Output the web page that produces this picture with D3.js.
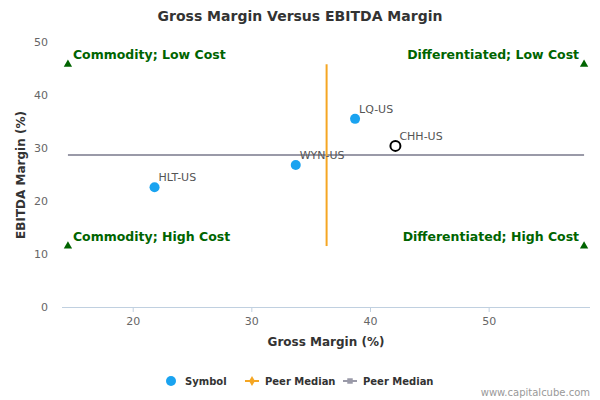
<!DOCTYPE html><html><head><script src="https://cdn.jsdelivr.net/npm/d3@7"></script>
<style>body{margin:0;background:#fff}text{font-family:"DejaVu Sans",sans-serif}</style></head><body><svg id="c" width="600" height="400"></svg>
<script>
const symbols=["HLT-US","WYN-US","LQ-US","CHH-US"];
const grossMargin=[21.8,33.7,38.7,42.1];
const ebitdaMargin=[22.6,26.8,35.5,30.4];
const highlighted=[false,false,false,true];
const peerMedianX=36.3, peerMedianY=28.7;
const xTicks=[20,30,40,50], yTicks=[0,10,20,30,40,50];
const quadLabels=["Commodity; Low Cost","Differentiated; Low Cost","Commodity; High Cost","Differentiated; High Cost"];
const quadX=[14.5,58,14.5,58], quadY=[45.8,45.8,11.5,11.5];
const svg=d3.select("#c");
const x=d3.scaleLinear().domain([14,58.5]).range([62,590]);
const y=d3.scaleLinear().domain([0,50]).range([307,42]);
svg.append("text").attr("x",300).attr("y",21).attr("text-anchor","middle").attr("font-size",14).attr("font-weight","bold").attr("fill","#333").text("Gross Margin Versus EBITDA Margin");
svg.append("line").attr("x1",62).attr("x2",590).attr("y1",y(0)+0.5).attr("y2",y(0)+0.5).attr("stroke","#c0d0e0");
xTicks.forEach(t=>{svg.append("line").attr("x1",x(t)).attr("x2",x(t)).attr("y1",y(0)).attr("y2",y(0)+5).attr("stroke","#c0d0e0");
svg.append("text").attr("x",x(t)).attr("y",325).attr("text-anchor","middle").attr("font-size",11).attr("fill","#666").text(t);});
yTicks.forEach(t=>svg.append("text").attr("x",48).attr("y",y(t)+4).attr("text-anchor","end").attr("font-size",11).attr("fill","#666").text(t));
svg.append("text").attr("x",326).attr("y",346).attr("text-anchor","middle").attr("font-size",12).attr("font-weight","bold").attr("fill","#333").text("Gross Margin (%)");
svg.append("text").attr("transform","translate(25,175) rotate(-90)").attr("text-anchor","middle").attr("font-size",12).attr("font-weight","bold").attr("fill","#333").text("EBITDA Margin (%)");
svg.append("line").attr("x1",x(14.5)).attr("x2",x(58)).attr("y1",y(peerMedianY)).attr("y2",y(peerMedianY)).attr("stroke","#9a9aa8").attr("stroke-width",2);
svg.append("line").attr("x1",x(peerMedianX)).attr("x2",x(peerMedianX)).attr("y1",y(45.8)).attr("y2",y(11.5)).attr("stroke","#f5a623").attr("stroke-width",2);
quadLabels.forEach((l,i)=>{svg.append("path").attr("d",d3.symbol(d3.symbolTriangle,30)()).attr("transform",`translate(${x(quadX[i])},${y(quadY[i])})`).attr("fill","#006400");
const left=i%2==0;svg.append("text").attr("x",x(quadX[i])+(left?5:-5)).attr("y",y(quadY[i])-5).attr("text-anchor",left?"start":"end").attr("font-size",12.5).attr("font-weight","bold").attr("fill","#006400").text(l);});
symbols.forEach((s,i)=>{const c=svg.append("circle").attr("cx",x(grossMargin[i])).attr("cy",y(ebitdaMargin[i])).attr("r",5);
if(highlighted[i])c.attr("fill","#fff").attr("stroke","#000").attr("stroke-width",2);else c.attr("fill","#1aa3f0");
svg.append("text").attr("x",x(grossMargin[i])+4).attr("y",y(ebitdaMargin[i])-6).attr("font-size",11).attr("fill","#555").text(s);});
const lg=[["Symbol","c"],["Peer Median","o"],["Peer Median","g"]];const lx=[165,245,343];
lg.forEach((d,i)=>{const cx=lx[i];
if(d[1]=="c")svg.append("circle").attr("cx",cx+6).attr("cy",381).attr("r",5).attr("fill","#1aa3f0");
else{const col=d[1]=="o"?"#f5a623":"#9a9aa8";svg.append("line").attr("x1",cx).attr("x2",cx+14).attr("y1",381).attr("y2",381).attr("stroke",col).attr("stroke-width",2);
svg.append("path").attr("d",d3.symbol(d[1]=="o"?d3.symbolDiamond:d3.symbolSquare,30)()).attr("transform",`translate(${cx+7},381)`).attr("fill",col);}
svg.append("text").attr("x",cx+20).attr("y",385).attr("font-size",10).attr("font-weight","bold").attr("fill","#333").text(d[0]);});
svg.append("text").attr("x",590).attr("y",396).attr("text-anchor","end").attr("font-size",10).attr("fill","#999").text("www.capitalcube.com");
</script></body></html>
